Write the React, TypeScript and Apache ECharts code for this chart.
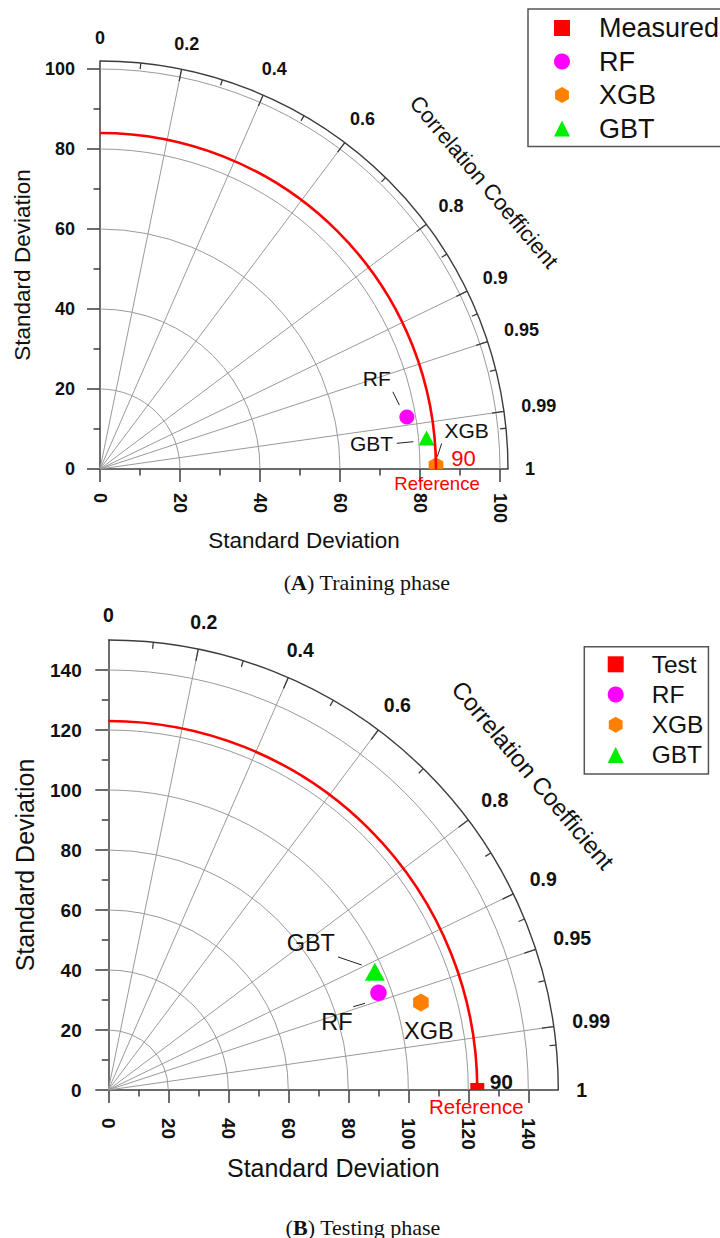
import React, { useEffect, useRef } from 'react';
import * as echarts from 'echarts';

// ---- correlation grid shared by both Taylor diagrams ----
const corrLabelValues = [0, 0.2, 0.4, 0.6, 0.8, 0.9, 0.95, 0.99, 1];
const corrLineValues = [0.2, 0.4, 0.6, 0.8, 0.9, 0.95, 0.99];
const corrMinorValues = [0.1, 0.3, 0.5, 0.7, 0.85, 0.925, 0.97, 0.995];
const modelNames = ['RF', 'XGB', 'GBT'];

// ---- (A) training phase ----
const trainStdTicks = [0, 20, 40, 60, 80, 100];
const trainStdMinorTicks = [10, 30, 50, 70, 90];
const trainStdMax = 102;
const trainRefName = 'Measured';
const trainRefStd = 84;
const trainRefTag = '90';
const trainModelStd = [77.8, 84.0, 82.0];
const trainModelCorr = [0.986, 0.99995, 0.9955];

// ---- (B) testing phase ----
const testStdTicks = [0, 20, 40, 60, 80, 100, 120, 140];
const testStdMinorTicks = [10, 30, 50, 70, 90, 110, 130];
const testStdMax = 150;
const testRefName = 'Test';
const testRefStd = 123;
const testRefTag = '90';
const testModelStd = [95.7, 108.2, 97.2];
const testModelCorr = [0.941, 0.963, 0.914];

// ---- styling ----
const FONT = '"Liberation Sans", Arial, Helvetica, sans-serif';
const SERIF = '"Liberation Serif", "Times New Roman", serif';
const INK = '#111111';
const AXIS = '#3c3c3c';
const GRID = '#9a9a9a';
const RED = '#ff0000';
const modelColors = ['#ff00ff', '#ff8000', '#00ee00'];
const modelShapes = ['circle', 'hexagon', 'triangle'];
const hexIcon = 'path://M0,-10L8.66,-5L8.66,5L0,10L-8.66,5L-8.66,-5Z';

type PanelData = {
  ticks: number[];
  minor: number[];
  max: number;
  refName: string;
  refStd: number;
  refTag: string;
  std: number[];
  corr: number[];
};

const trainPanel: PanelData = {
  ticks: trainStdTicks,
  minor: trainStdMinorTicks,
  max: trainStdMax,
  refName: trainRefName,
  refStd: trainRefStd,
  refTag: trainRefTag,
  std: trainModelStd,
  corr: trainModelCorr,
};

const testPanel: PanelData = {
  ticks: testStdTicks,
  minor: testStdMinorTicks,
  max: testStdMax,
  refName: testRefName,
  refStd: testRefStd,
  refTag: testRefTag,
  std: testModelStd,
  corr: testModelCorr,
};

const layoutA = {
  originX: 100,
  originY: 469,
  unit: 4,
  tickFont: 18,
  corrFont: 18,
  nameFont: 22.5,
  annFont: 21,
  xLabelMargin: 24,
  yLabelMargin: 25,
  xNameGap: 60,
  yNameGap: 66,
  arcTickMajor: 12,
  arcTickMinor: 6,
  corrGap: 17,
  circle: 15,
  hexagon: 17,
  triangle: [16, 15],
  square: 14,
  ann: [
    { text: [-30, -38.5], line: [-14, -25.3, -7.5, -12] },
    { text: [30.7, -35.6], line: [5.7, -22.3, 1.3, -8.9] },
    { text: [-55, 5.5], line: [-29.8, 5.4, -13.2, 3.8] },
  ] as { text: number[]; line?: number[] }[],
  tag: { dx: 27.5, dy: -11, size: 22, weight: 'normal', color: RED },
  refText: { dx: 1, dy: 14.5, size: 18.5 },
  corrTitle: { x: 484, y: 182, size: 22 },
  caption: { x: 367, y: 582, size: 22, tag: 'A', text: ' Training phase' },
  legend: {
    left: 528,
    top: 9,
    padding: [4, 24, 3, 26],
    itemGap: 3.5,
    fontSize: 27,
    lineHeight: 30,
    textPad: 24,
  },
};

const layoutB = {
  originX: 108.3,
  originY: 1090,
  unit: 3,
  tickFont: 19,
  corrFont: 19.5,
  nameFont: 25,
  annFont: 23.5,
  xLabelMargin: 28,
  yLabelMargin: 26.6,
  xNameGap: 65.5,
  yNameGap: 71,
  arcTickMajor: 12,
  arcTickMinor: 6.5,
  corrGap: 18,
  circle: 16.5,
  hexagon: 18,
  triangle: [20, 18],
  square: 14,
  ann: [
    { text: [-41.5, 29.2], line: [-25.2, 13.9, -13.5, 10.5] },
    { text: [8, 28.5] },
    { text: [-64, -28.7], line: [-36.8, -14.7, -13.1, -6.7] },
  ] as { text: number[]; line?: number[] }[],
  tag: { dx: 24, dy: -9, size: 21, weight: 'bold', color: INK },
  refText: { dx: -1, dy: 16, size: 20.5 },
  corrTitle: { x: 533, y: 775, size: 24 },
  caption: { x: 363, y: 1227, size: 22, tag: 'B', text: ' Testing phase' },
  legend: {
    left: 584.3,
    top: 646.7,
    padding: [3.6, 5, 5, 23.4],
    itemGap: 2.2,
    fontSize: 24.5,
    lineHeight: 28,
    textPad: 23,
  },
};

type Layout = typeof layoutA;

function labelWidth(s: string, fs: number) {
  let w = 0;
  for (const ch of s) w += ch === '.' ? 0.278 : 0.556;
  return w * fs;
}

// Keep only the part of a polygon that lies above the x axis (y <= yMax in pixels).
function clipAbove(points: number[][], yMax: number) {
  const out: number[][] = [];
  for (let k = 0; k < points.length; k++) {
    const a = points[k];
    const b = points[(k + 1) % points.length];
    const aIn = a[1] <= yMax;
    const bIn = b[1] <= yMax;
    if (aIn) out.push(a);
    if (aIn !== bIn) {
      const t = (yMax - a[1]) / (b[1] - a[1]);
      out.push([a[0] + (b[0] - a[0]) * t, yMax]);
    }
  }
  return out;
}

function markerEl(kind: string, cx: number, cy: number, color: string, L: Layout, yMax: number) {
  const style = { fill: color, stroke: 'none' };
  if (kind === 'circle') return { type: 'circle', shape: { cx, cy, r: L.circle / 2 }, style };
  let pts: number[][];
  if (kind === 'rect') {
    const h = L.square / 2;
    pts = [[cx - h, cy - h], [cx + h, cy - h], [cx + h, cy + h], [cx - h, cy + h]];
  } else if (kind === 'triangle') {
    const [w, h] = L.triangle;
    pts = [[cx, cy - h / 2], [cx + w / 2, cy + h / 2], [cx - w / 2, cy + h / 2]];
  } else {
    const r = L.hexagon / 2;
    pts = [];
    for (let k = 0; k < 6; k++) {
      const a = -Math.PI / 2 + (k * Math.PI) / 3;
      pts.push([cx + r * Math.cos(a), cy + r * Math.sin(a)]);
    }
  }
  return { type: 'polygon', shape: { points: clipAbove(pts, yMax) }, style };
}

function quarterArc(api: any, radius: number, stroke: string, lineWidth: number) {
  const o = api.coord([0, 0]);
  const r = api.size([radius, 0])[0];
  return {
    type: 'arc',
    shape: { cx: o[0], cy: o[1], r, startAngle: -Math.PI / 2, endAngle: 0, clockwise: true },
    style: { stroke, lineWidth, fill: 'none' },
  };
}

function buildPanel(i: number, d: PanelData, L: Layout) {
  const size = d.max * L.unit;
  const grid = { left: L.originX, top: L.originY - size, width: size, height: size };
  const axisIdx = i * 2;
  const common = { type: 'value', gridIndex: i, min: 0, max: d.max, splitLine: { show: false } };
  const tickLine = { color: AXIS, width: 1.5 };
  const labelStyle = { fontSize: L.tickFont, fontWeight: 'bold', color: INK, fontFamily: FONT };
  const nameStyle = { fontSize: L.nameFont, color: INK, fontFamily: FONT };

  const xAxis = [
    {
      ...common,
      position: 'bottom',
      axisLine: { show: true, onZero: false, lineStyle: tickLine },
      axisTick: { show: true, customValues: d.ticks, length: 13, lineStyle: tickLine },
      axisLabel: { show: true, customValues: d.ticks, rotate: -90, margin: L.xLabelMargin, ...labelStyle },
      name: 'Standard Deviation',
      nameLocation: 'middle',
      nameGap: L.xNameGap,
      nameTextStyle: nameStyle,
    },
    {
      ...common,
      position: 'bottom',
      axisLine: { show: false, onZero: false },
      axisTick: { show: true, customValues: d.minor, length: 6.5, lineStyle: tickLine },
      axisLabel: { show: false },
    },
  ];
  const yAxis = [
    {
      ...common,
      position: 'left',
      axisLine: { show: true, onZero: false, lineStyle: tickLine },
      axisTick: { show: true, customValues: d.ticks, length: 13, lineStyle: tickLine },
      axisLabel: { show: true, customValues: d.ticks, margin: L.yLabelMargin, ...labelStyle },
      name: 'Standard Deviation',
      nameLocation: 'middle',
      nameGap: L.yNameGap,
      nameTextStyle: nameStyle,
    },
    {
      ...common,
      position: 'left',
      axisLine: { show: false, onZero: false },
      axisTick: { show: true, customValues: d.minor, length: 6.5, lineStyle: tickLine },
      axisLabel: { show: false },
    },
  ];

  const on = {
    type: 'custom',
    coordinateSystem: 'cartesian2d',
    xAxisIndex: axisIdx,
    yAxisIndex: axisIdx,
    silent: true,
    clip: false,
  };

  const modelPoints = d.std.map((s, k) => {
    const c = d.corr[k];
    return [s * c, s * Math.sqrt(1 - c * c)];
  });

  const series: any[] = [
    // standard deviation circles
    {
      ...on,
      name: `std-grid-${i}`,
      data: d.ticks.filter((v) => v > 0).map((v) => [v, 0]),
      renderItem: (_p: any, api: any) => quarterArc(api, api.value(0), GRID, 1),
    },
    // correlation rays with major ticks on the outer arc
    {
      ...on,
      name: `corr-rays-${i}`,
      data: corrLineValues.map((c) => [c, 0]),
      renderItem: (_p: any, api: any) => {
        const c = api.value(0);
        const s = Math.sqrt(1 - c * c);
        const o = api.coord([0, 0]);
        const e = api.coord([d.max * c, d.max * s]);
        const R = api.size([d.max, 0])[0];
        const k = (R - L.arcTickMajor) / R;
        return {
          type: 'group',
          children: [
            { type: 'line', shape: { x1: o[0], y1: o[1], x2: e[0], y2: e[1] }, style: { stroke: GRID, lineWidth: 1 } },
            {
              type: 'line',
              shape: { x1: o[0] + (e[0] - o[0]) * k, y1: o[1] + (e[1] - o[1]) * k, x2: e[0], y2: e[1] },
              style: { stroke: AXIS, lineWidth: 1.3 },
            },
          ],
        };
      },
    },
    // minor correlation ticks
    {
      ...on,
      name: `corr-minor-${i}`,
      data: corrMinorValues.map((c) => [c, 0]),
      renderItem: (_p: any, api: any) => {
        const c = api.value(0);
        const s = Math.sqrt(1 - c * c);
        const o = api.coord([0, 0]);
        const e = api.coord([d.max * c, d.max * s]);
        const R = api.size([d.max, 0])[0];
        const k = (R - L.arcTickMinor) / R;
        return {
          type: 'line',
          shape: { x1: o[0] + (e[0] - o[0]) * k, y1: o[1] + (e[1] - o[1]) * k, x2: e[0], y2: e[1] },
          style: { stroke: AXIS, lineWidth: 1.3 },
        };
      },
    },
    // outer boundary arc
    {
      ...on,
      name: `outer-${i}`,
      data: [[d.max, 0]],
      renderItem: (_p: any, api: any) => quarterArc(api, api.value(0), AXIS, 1.4),
    },
    // correlation tick labels
    {
      ...on,
      name: `corr-labels-${i}`,
      data: corrLabelValues.map((c) => [c, 0]),
      renderItem: (_p: any, api: any) => {
        const c = api.value(0);
        const th = Math.acos(c);
        const o = api.coord([0, 0]);
        const R = api.size([d.max, 0])[0];
        const txt = String(c);
        const w = labelWidth(txt, L.corrFont);
        const h = L.corrFont * 0.72;
        const dist = R + L.corrGap + (Math.abs(Math.cos(th)) * w) / 2 + (Math.abs(Math.sin(th)) * h) / 2;
        return {
          type: 'text',
          x: o[0] + dist * Math.cos(th),
          y: o[1] - dist * Math.sin(th),
          style: {
            text: txt,
            fontSize: L.corrFont,
            fontWeight: 'bold',
            fontFamily: FONT,
            fill: INK,
            align: 'center',
            verticalAlign: 'middle',
          },
        };
      },
    },
    // reference point
    {
      ...on,
      name: d.refName,
      itemStyle: { color: RED },
      data: [[d.refStd, 0]],
      renderItem: (_p: any, api: any) => {
        const p = api.coord([api.value(0), api.value(1)]);
        const yAxisPx = api.coord([0, 0])[1];
        return markerEl('rect', p[0], p[1], RED, L, yAxisPx);
      },
    },
    // model points
    ...modelNames.map((name, k) => ({
      ...on,
      name,
      itemStyle: { color: modelColors[k] },
      data: [modelPoints[k]],
      renderItem: (_p: any, api: any) => {
        const p = api.coord([api.value(0), api.value(1)]);
        const yAxisPx = api.coord([0, 0])[1];
        return markerEl(modelShapes[k], p[0], p[1], modelColors[k], L, yAxisPx);
      },
    })),
    // reference standard deviation arc
    {
      ...on,
      name: `ref-arc-${i}`,
      data: [[d.refStd, 0]],
      renderItem: (_p: any, api: any) => quarterArc(api, api.value(0), RED, 2.6),
    },
    // point annotations
    {
      ...on,
      name: `annotations-${i}`,
      data: [...modelPoints, [d.refStd, 0]],
      renderItem: (p: any, api: any) => {
        const c = api.coord([api.value(0), api.value(1)]);
        const k = p.dataIndex;
        if (k < modelNames.length) {
          const a = L.ann[k];
          const children: any[] = [
            {
              type: 'text',
              x: c[0] + a.text[0],
              y: c[1] + a.text[1],
              style: {
                text: modelNames[k],
                fontSize: L.annFont,
                fontFamily: FONT,
                fill: INK,
                align: 'center',
                verticalAlign: 'middle',
              },
            },
          ];
          if (a.line) {
            children.push({
              type: 'line',
              shape: { x1: c[0] + a.line[0], y1: c[1] + a.line[1], x2: c[0] + a.line[2], y2: c[1] + a.line[3] },
              style: { stroke: '#222', lineWidth: 1 },
            });
          }
          return { type: 'group', children };
        }
        return {
          type: 'group',
          children: [
            {
              type: 'text',
              x: c[0] + L.tag.dx,
              y: c[1] + L.tag.dy,
              style: {
                text: d.refTag,
                fontSize: L.tag.size,
                fontWeight: L.tag.weight,
                fontFamily: FONT,
                fill: L.tag.color,
                align: 'center',
                verticalAlign: 'middle',
              },
            },
            {
              type: 'text',
              x: c[0] + L.refText.dx,
              y: c[1] + L.refText.dy,
              style: {
                text: 'Reference',
                fontSize: L.refText.size,
                fontFamily: FONT,
                fill: RED,
                align: 'center',
                verticalAlign: 'middle',
              },
            },
          ],
        };
      },
    },
  ];

  const legend = {
    data: [
      { name: d.refName, icon: 'rect', itemStyle: { color: RED } },
      ...modelNames.map((name, k) => ({
        name,
        icon: modelShapes[k] === 'hexagon' ? hexIcon : modelShapes[k],
        itemStyle: { color: modelColors[k] },
      })),
    ],
    orient: 'vertical',
    left: L.legend.left,
    top: L.legend.top,
    padding: L.legend.padding,
    itemWidth: 16,
    itemHeight: 16,
    itemGap: L.legend.itemGap,
    borderColor: '#555',
    borderWidth: 1.5,
    borderRadius: 0,
    selectedMode: false,
    textStyle: {
      fontSize: L.legend.fontSize,
      lineHeight: L.legend.lineHeight,
      padding: [0, 0, 0, L.legend.textPad],
      color: INK,
      fontFamily: FONT,
    },
  };

  const cap = L.caption;
  const graphic = [
    {
      type: 'text',
      x: L.corrTitle.x,
      y: L.corrTitle.y,
      rotation: (-50 * Math.PI) / 180,
      style: {
        text: 'Correlation Coefficient',
        fontSize: L.corrTitle.size,
        fontFamily: FONT,
        fill: INK,
        align: 'center',
        verticalAlign: 'middle',
      },
    },
    {
      type: 'text',
      x: cap.x,
      y: cap.y,
      style: {
        text: `{n|(}{b|${cap.tag}}{n|)${cap.text}}`,
        align: 'center',
        verticalAlign: 'middle',
        fontSize: cap.size,
        fontFamily: SERIF,
        fill: INK,
        rich: {
          n: { fontSize: cap.size, fontFamily: SERIF, fill: INK },
          b: { fontSize: cap.size, fontFamily: SERIF, fill: INK, fontWeight: 'bold' },
        },
      },
    },
  ];

  return { grid, xAxis, yAxis, series, legend, graphic };
}

export default function App() {
  const ref = useRef<HTMLDivElement>(null);

  useEffect(() => {
    if (!ref.current) return;
    const chart = echarts.init(ref.current, undefined, { renderer: 'svg' });
    const a = buildPanel(0, trainPanel, layoutA);
    const b = buildPanel(1, testPanel, layoutB);
    chart.setOption({
      animation: false,
      backgroundColor: '#ffffff',
      textStyle: { fontFamily: FONT },
      grid: [a.grid, b.grid],
      xAxis: [...a.xAxis, ...b.xAxis],
      yAxis: [...a.yAxis, ...b.yAxis],
      legend: [a.legend, b.legend],
      graphic: [...a.graphic, ...b.graphic],
      series: [...a.series, ...b.series],
    });
    return () => chart.dispose();
  }, []);

  return (
    <div
      ref={ref}
      style={{ position: 'absolute', left: 0, top: 0, width: 720, height: 1238, background: '#fff' }}
    />
  );
}
